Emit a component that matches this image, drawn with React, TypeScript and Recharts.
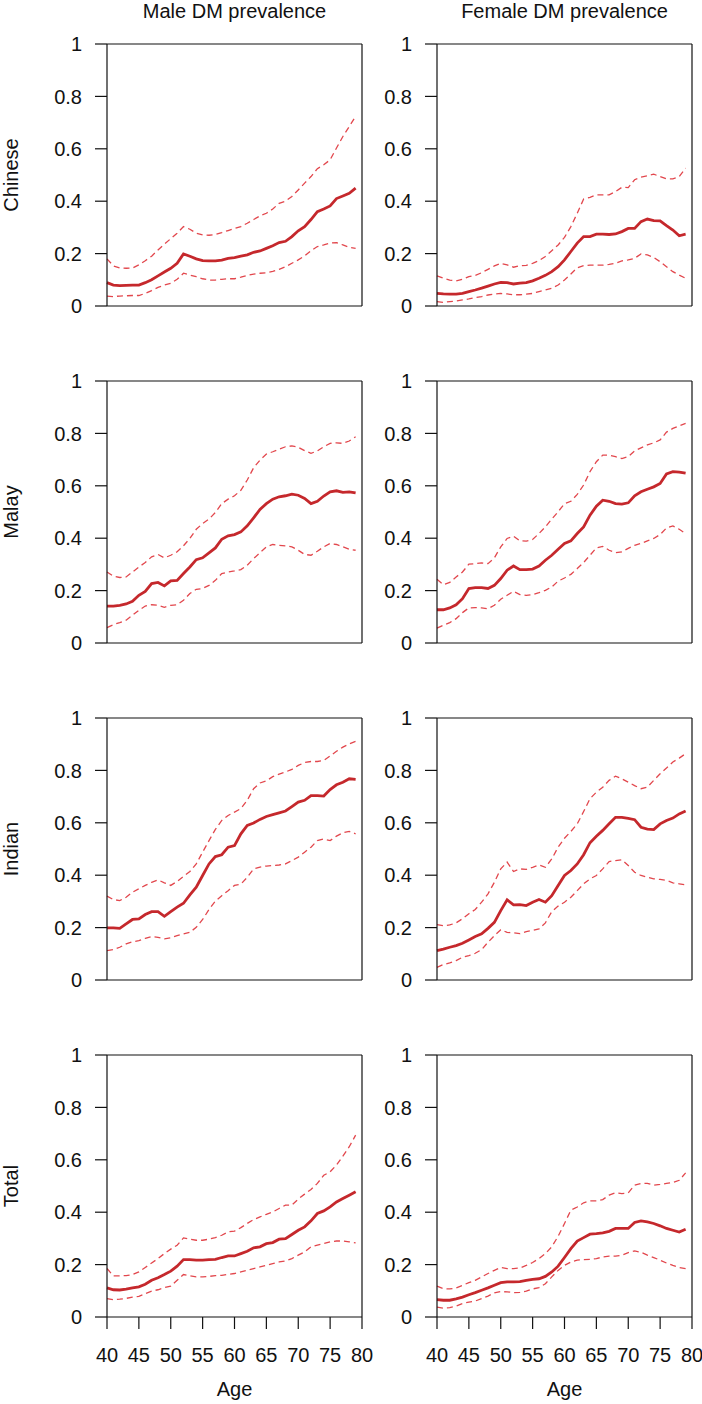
import { LineChart, Line, XAxis, YAxis, ReferenceLine } from 'recharts';

const AGES = [
    40, 41, 42, 43, 44, 45, 46, 47, 48, 49, 50, 51, 52, 53, 54, 55, 56, 57, 58, 59,
    60, 61, 62, 63, 64, 65, 66, 67, 68, 69, 70, 71, 72, 73, 74, 75, 76, 77, 78, 79,
];
const X_TICKS = [40, 45, 50, 55, 60, 65, 70, 75, 80];
const Y_TICKS = [0, 0.2, 0.4, 0.6, 0.8, 1];
const COLUMN_TITLES = ['Male DM prevalence', 'Female DM prevalence'];
const ROW_LABELS = ['Chinese', 'Malay', 'Indian', 'Total'];

// male
const maleChineseEst = [0.089, 0.080, 0.078, 0.079, 0.080, 0.080, 0.089, 0.100, 0.115, 0.130, 0.144, 0.163, 0.199, 0.190, 0.180, 0.173, 0.172, 0.172, 0.175, 0.182, 0.185, 0.190, 0.195, 0.205, 0.210, 0.220, 0.230, 0.242, 0.247, 0.265, 0.287, 0.303, 0.330, 0.360, 0.370, 0.382, 0.410, 0.420, 0.430, 0.450];
const maleChineseHi = [0.180, 0.153, 0.145, 0.144, 0.145, 0.157, 0.173, 0.190, 0.214, 0.236, 0.257, 0.278, 0.303, 0.293, 0.278, 0.271, 0.270, 0.273, 0.280, 0.288, 0.296, 0.303, 0.316, 0.330, 0.344, 0.354, 0.370, 0.392, 0.400, 0.418, 0.443, 0.469, 0.494, 0.524, 0.539, 0.558, 0.603, 0.647, 0.685, 0.724];
const maleChineseLo = [0.038, 0.036, 0.038, 0.039, 0.040, 0.040, 0.048, 0.059, 0.071, 0.080, 0.087, 0.102, 0.125, 0.118, 0.112, 0.104, 0.099, 0.099, 0.102, 0.104, 0.104, 0.110, 0.117, 0.122, 0.125, 0.127, 0.132, 0.140, 0.150, 0.163, 0.176, 0.191, 0.211, 0.227, 0.233, 0.240, 0.242, 0.233, 0.224, 0.220];

const maleMalayEst = [0.141, 0.141, 0.144, 0.149, 0.159, 0.182, 0.197, 0.227, 0.231, 0.218, 0.237, 0.239, 0.265, 0.290, 0.318, 0.325, 0.344, 0.363, 0.396, 0.409, 0.414, 0.424, 0.447, 0.478, 0.510, 0.532, 0.549, 0.558, 0.562, 0.568, 0.564, 0.552, 0.532, 0.541, 0.561, 0.577, 0.581, 0.575, 0.577, 0.573];
const maleMalayHi = [0.271, 0.255, 0.250, 0.252, 0.271, 0.290, 0.307, 0.329, 0.338, 0.325, 0.335, 0.348, 0.371, 0.399, 0.434, 0.456, 0.473, 0.498, 0.532, 0.549, 0.562, 0.583, 0.622, 0.669, 0.698, 0.721, 0.730, 0.740, 0.749, 0.752, 0.747, 0.734, 0.724, 0.733, 0.749, 0.762, 0.764, 0.762, 0.771, 0.787];
const maleMalayLo = [0.059, 0.070, 0.078, 0.087, 0.106, 0.125, 0.141, 0.146, 0.144, 0.136, 0.144, 0.146, 0.163, 0.189, 0.205, 0.208, 0.220, 0.239, 0.265, 0.271, 0.275, 0.280, 0.297, 0.322, 0.345, 0.367, 0.376, 0.373, 0.371, 0.367, 0.354, 0.338, 0.335, 0.350, 0.367, 0.380, 0.376, 0.367, 0.358, 0.354];

const maleIndianEst = [0.199, 0.199, 0.197, 0.214, 0.231, 0.233, 0.250, 0.261, 0.261, 0.243, 0.261, 0.278, 0.293, 0.325, 0.354, 0.399, 0.443, 0.471, 0.478, 0.507, 0.513, 0.558, 0.590, 0.599, 0.613, 0.624, 0.631, 0.638, 0.645, 0.662, 0.679, 0.686, 0.704, 0.704, 0.702, 0.727, 0.745, 0.755, 0.768, 0.766];
const maleIndianHi = [0.320, 0.307, 0.303, 0.316, 0.335, 0.348, 0.361, 0.373, 0.382, 0.371, 0.361, 0.376, 0.396, 0.414, 0.443, 0.488, 0.532, 0.575, 0.609, 0.628, 0.641, 0.654, 0.686, 0.730, 0.752, 0.760, 0.776, 0.786, 0.794, 0.804, 0.819, 0.830, 0.834, 0.834, 0.838, 0.855, 0.873, 0.889, 0.901, 0.911];
const maleIndianLo = [0.112, 0.116, 0.125, 0.138, 0.146, 0.150, 0.159, 0.166, 0.163, 0.157, 0.161, 0.169, 0.176, 0.182, 0.201, 0.231, 0.269, 0.301, 0.322, 0.341, 0.361, 0.366, 0.392, 0.424, 0.431, 0.435, 0.437, 0.439, 0.443, 0.456, 0.469, 0.488, 0.507, 0.532, 0.538, 0.532, 0.549, 0.562, 0.567, 0.558];

const maleTotalEst = [0.111, 0.104, 0.103, 0.106, 0.111, 0.115, 0.125, 0.140, 0.150, 0.162, 0.175, 0.194, 0.219, 0.219, 0.217, 0.217, 0.219, 0.220, 0.227, 0.233, 0.233, 0.242, 0.251, 0.264, 0.268, 0.280, 0.284, 0.297, 0.299, 0.315, 0.331, 0.344, 0.367, 0.395, 0.405, 0.420, 0.439, 0.452, 0.465, 0.478];
const maleTotalHi = [0.185, 0.157, 0.157, 0.158, 0.162, 0.172, 0.189, 0.206, 0.223, 0.242, 0.259, 0.274, 0.302, 0.297, 0.293, 0.293, 0.297, 0.303, 0.312, 0.325, 0.328, 0.341, 0.357, 0.372, 0.382, 0.392, 0.401, 0.414, 0.427, 0.427, 0.450, 0.469, 0.487, 0.510, 0.541, 0.554, 0.580, 0.614, 0.650, 0.694];
const maleTotalLo = [0.070, 0.066, 0.068, 0.071, 0.076, 0.079, 0.089, 0.099, 0.104, 0.112, 0.118, 0.140, 0.162, 0.157, 0.153, 0.153, 0.155, 0.158, 0.159, 0.163, 0.166, 0.172, 0.178, 0.185, 0.191, 0.197, 0.204, 0.210, 0.214, 0.223, 0.236, 0.248, 0.268, 0.274, 0.280, 0.287, 0.290, 0.290, 0.287, 0.283];

// female
const femaleChineseEst = [0.048, 0.046, 0.045, 0.045, 0.048, 0.055, 0.061, 0.068, 0.076, 0.084, 0.090, 0.089, 0.084, 0.087, 0.089, 0.096, 0.106, 0.117, 0.131, 0.150, 0.176, 0.208, 0.240, 0.265, 0.265, 0.274, 0.274, 0.273, 0.275, 0.284, 0.296, 0.296, 0.322, 0.332, 0.326, 0.325, 0.307, 0.290, 0.268, 0.274];
const femaleChineseHi = [0.115, 0.106, 0.099, 0.096, 0.102, 0.112, 0.117, 0.127, 0.140, 0.153, 0.163, 0.157, 0.148, 0.154, 0.155, 0.163, 0.173, 0.189, 0.211, 0.233, 0.262, 0.303, 0.354, 0.408, 0.415, 0.424, 0.424, 0.424, 0.437, 0.453, 0.452, 0.482, 0.492, 0.497, 0.503, 0.494, 0.485, 0.485, 0.494, 0.526];
const femaleChineseLo = [0.017, 0.014, 0.017, 0.019, 0.023, 0.027, 0.032, 0.036, 0.042, 0.046, 0.048, 0.046, 0.043, 0.043, 0.045, 0.048, 0.055, 0.061, 0.068, 0.080, 0.099, 0.122, 0.146, 0.154, 0.156, 0.156, 0.156, 0.159, 0.163, 0.172, 0.176, 0.182, 0.199, 0.195, 0.185, 0.169, 0.150, 0.131, 0.118, 0.106];

const femaleMalayEst = [0.127, 0.127, 0.134, 0.146, 0.169, 0.208, 0.211, 0.211, 0.208, 0.220, 0.246, 0.278, 0.294, 0.280, 0.280, 0.282, 0.294, 0.316, 0.335, 0.358, 0.380, 0.390, 0.418, 0.443, 0.488, 0.522, 0.545, 0.541, 0.532, 0.530, 0.535, 0.562, 0.577, 0.587, 0.596, 0.609, 0.645, 0.654, 0.652, 0.648];
const femaleMalayHi = [0.243, 0.223, 0.231, 0.252, 0.271, 0.301, 0.303, 0.306, 0.303, 0.325, 0.367, 0.399, 0.408, 0.390, 0.389, 0.395, 0.418, 0.443, 0.473, 0.501, 0.532, 0.541, 0.567, 0.603, 0.654, 0.692, 0.717, 0.717, 0.711, 0.704, 0.711, 0.733, 0.745, 0.756, 0.764, 0.775, 0.805, 0.819, 0.829, 0.838];
const femaleMalayLo = [0.057, 0.068, 0.078, 0.093, 0.116, 0.134, 0.135, 0.134, 0.131, 0.144, 0.167, 0.182, 0.197, 0.185, 0.182, 0.185, 0.192, 0.201, 0.214, 0.236, 0.248, 0.262, 0.284, 0.307, 0.335, 0.363, 0.369, 0.354, 0.345, 0.348, 0.361, 0.373, 0.380, 0.390, 0.399, 0.414, 0.439, 0.447, 0.434, 0.418];

const femaleIndianEst = [0.112, 0.118, 0.125, 0.131, 0.140, 0.153, 0.166, 0.176, 0.197, 0.220, 0.265, 0.306, 0.287, 0.288, 0.284, 0.297, 0.307, 0.297, 0.322, 0.361, 0.399, 0.418, 0.443, 0.478, 0.524, 0.549, 0.571, 0.596, 0.621, 0.621, 0.617, 0.612, 0.583, 0.576, 0.574, 0.596, 0.609, 0.618, 0.634, 0.645];
const femaleIndianHi = [0.211, 0.207, 0.210, 0.218, 0.234, 0.253, 0.269, 0.297, 0.329, 0.373, 0.424, 0.450, 0.414, 0.424, 0.422, 0.430, 0.439, 0.430, 0.462, 0.507, 0.541, 0.567, 0.596, 0.643, 0.692, 0.717, 0.736, 0.762, 0.778, 0.768, 0.755, 0.742, 0.730, 0.736, 0.762, 0.787, 0.809, 0.832, 0.847, 0.864];
const femaleIndianLo = [0.048, 0.059, 0.065, 0.074, 0.087, 0.093, 0.102, 0.116, 0.144, 0.169, 0.192, 0.182, 0.180, 0.177, 0.185, 0.189, 0.195, 0.218, 0.261, 0.282, 0.297, 0.316, 0.341, 0.367, 0.386, 0.399, 0.424, 0.452, 0.456, 0.459, 0.437, 0.411, 0.399, 0.392, 0.386, 0.384, 0.380, 0.371, 0.367, 0.363];

const femaleTotalEst = [0.066, 0.064, 0.064, 0.069, 0.076, 0.085, 0.093, 0.102, 0.111, 0.121, 0.131, 0.134, 0.134, 0.135, 0.140, 0.144, 0.146, 0.155, 0.172, 0.194, 0.227, 0.261, 0.290, 0.303, 0.316, 0.318, 0.321, 0.327, 0.338, 0.338, 0.338, 0.361, 0.367, 0.363, 0.357, 0.348, 0.338, 0.331, 0.324, 0.335];
const femaleTotalHi = [0.118, 0.108, 0.107, 0.111, 0.121, 0.131, 0.140, 0.153, 0.166, 0.178, 0.189, 0.185, 0.185, 0.187, 0.197, 0.208, 0.223, 0.242, 0.268, 0.308, 0.357, 0.408, 0.420, 0.436, 0.443, 0.443, 0.448, 0.465, 0.474, 0.471, 0.474, 0.503, 0.510, 0.510, 0.503, 0.506, 0.510, 0.513, 0.522, 0.550];
const femaleTotalLo = [0.038, 0.034, 0.036, 0.042, 0.051, 0.057, 0.061, 0.070, 0.080, 0.092, 0.097, 0.096, 0.093, 0.094, 0.099, 0.107, 0.112, 0.127, 0.153, 0.178, 0.197, 0.210, 0.217, 0.219, 0.220, 0.223, 0.229, 0.232, 0.232, 0.236, 0.246, 0.252, 0.247, 0.236, 0.227, 0.217, 0.206, 0.197, 0.189, 0.185];

// [row][col] -> [est, hi, lo]
const PANELS = [
    [[maleChineseEst, maleChineseHi, maleChineseLo], [femaleChineseEst, femaleChineseHi, femaleChineseLo]],
    [[maleMalayEst, maleMalayHi, maleMalayLo], [femaleMalayEst, femaleMalayHi, femaleMalayLo]],
    [[maleIndianEst, maleIndianHi, maleIndianLo], [femaleIndianEst, femaleIndianHi, femaleIndianLo]],
    [[maleTotalEst, maleTotalHi, maleTotalLo], [femaleTotalEst, femaleTotalHi, femaleTotalLo]],
];

const FONT = '"Liberation Sans", Arial, Helvetica, sans-serif';
const INK = '#111';
const SOLID = '#c5282c';
const DASHED = '#e2474d';
const ROW_STEP = 337;
const PLOT_TOP = 44;
const PLOT_H = 262;
const AXIS_W = 107;
const PLOT_W = 255;
const COL_LEFT = [0, 330];

function Panel({ row, col }: { row: number; col: number }) {
    const [est, hi, lo] = PANELS[row][col];
    const data = AGES.map((age, i) => ({ age, est: est[i], hi: hi[i], lo: lo[i] }));
    const bottomRow = row === ROW_LABELS.length - 1;
    const axisH = bottomRow ? 87 : 31;
    const rightPad = col === 0 ? 18 : 10;

    return (
        <div style={{ position: 'absolute', left: COL_LEFT[col], top: row * ROW_STEP }}>
            <LineChart
                width={AXIS_W + PLOT_W + rightPad}
                height={PLOT_TOP + PLOT_H + axisH}
                data={data}
                margin={{ top: PLOT_TOP, right: rightPad, left: 0, bottom: 0 }}
            >
                <XAxis
                    dataKey="age"
                    type="number"
                    domain={[40, 80]}
                    ticks={X_TICKS}
                    interval={0}
                    height={axisH}
                    tickSize={12}
                    tickMargin={19}
                    tick={bottomRow ? { fontSize: 20, fill: INK, fontFamily: FONT } : false}
                    axisLine={{ stroke: INK, strokeWidth: 1.2 }}
                    tickLine={{ stroke: INK, strokeWidth: 1.2 }}
                />
                <YAxis
                    type="number"
                    domain={[0, 1]}
                    ticks={Y_TICKS}
                    interval={0}
                    width={AXIS_W}
                    tickSize={12}
                    tickMargin={13}
                    tick={{ fontSize: 20, fill: INK, fontFamily: FONT }}
                    axisLine={{ stroke: INK, strokeWidth: 1.2 }}
                    tickLine={{ stroke: INK, strokeWidth: 1.2 }}
                />
                <ReferenceLine y={1} stroke={INK} strokeWidth={1.2} />
                <ReferenceLine x={80} stroke={INK} strokeWidth={1.2} />
                <Line
                    dataKey="hi"
                    stroke={DASHED}
                    strokeWidth={1.3}
                    strokeDasharray="6 4"
                    dot={false}
                    activeDot={false}
                    isAnimationActive={false}
                />
                <Line
                    dataKey="lo"
                    stroke={DASHED}
                    strokeWidth={1.3}
                    strokeDasharray="6 4"
                    dot={false}
                    activeDot={false}
                    isAnimationActive={false}
                />
                <Line
                    dataKey="est"
                    stroke={SOLID}
                    strokeWidth={2.8}
                    dot={false}
                    activeDot={false}
                    isAnimationActive={false}
                />
            </LineChart>
        </div>
    );
}

export default function App() {
    const centers = COL_LEFT.map((l) => l + AXIS_W + PLOT_W / 2);
    return (
        <div
            style={{
                position: 'absolute',
                left: 0,
                top: 0,
                width: 702,
                height: 1404,
                background: '#fff',
                overflow: 'hidden',
            }}
        >
            {ROW_LABELS.map((_, r) =>
                COL_LEFT.map((__, c) => <Panel key={`${r}-${c}`} row={r} col={c} />)
            )}
            <svg
                width={702}
                height={1404}
                style={{ position: 'absolute', left: 0, top: 0, pointerEvents: 'none' }}
                fontFamily={FONT}
                fontSize={20}
                fill={INK}
            >
                {COLUMN_TITLES.map((t, c) => (
                    <text key={t} x={centers[c]} y={18} textAnchor="middle">
                        {t}
                    </text>
                ))}
                {ROW_LABELS.map((t, r) => (
                    <text
                        key={t}
                        transform={`translate(18, ${PLOT_TOP + PLOT_H / 2 + r * ROW_STEP}) rotate(-90)`}
                        textAnchor="middle"
                    >
                        {t}
                    </text>
                ))}
                {centers.map((x, c) => (
                    <text key={c} x={x} y={1396} textAnchor="middle">
                        Age
                    </text>
                ))}
            </svg>
        </div>
    );
}
